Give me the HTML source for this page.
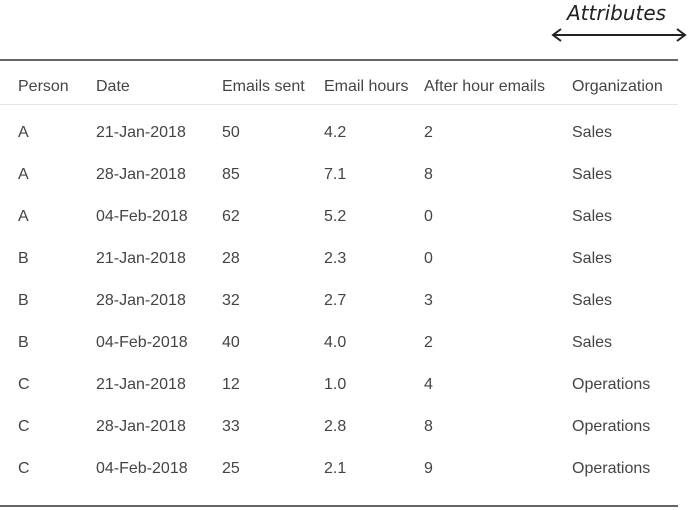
<!DOCTYPE html>
<html><head><meta charset="utf-8">
<style>
html,body{margin:0;padding:0;background:#fff;}
#wrap{position:relative;width:688px;height:510px;overflow:hidden;font-family:"Liberation Sans",sans-serif;font-size:16px;color:#444;}
.t{position:absolute;white-space:nowrap;line-height:18px;}
.rule{position:absolute;left:0;width:678px;}
</style></head><body>
<div id="wrap">
  <div class="t" style="left:567px;top:0px;font-family:'DejaVu Sans',sans-serif;font-style:italic;font-size:20px;color:#222;line-height:26px;">Attributes</div>
  <svg style="position:absolute;left:550px;top:27px" width="138" height16 height="16">
    <line x1="3" y1="8" x2="135" y2="8" stroke="#222" stroke-width="2"/>
    <polyline points="11,2 3,8 11,14" fill="none" stroke="#222" stroke-width="2"/>
    <polyline points="127,2 135,8 127,14" fill="none" stroke="#222" stroke-width="2"/>
  </svg>
  <div class="rule" style="top:59px;height:2px;background:#666;"></div>
  <div class="rule" style="top:104px;height:1px;background:#e4e4e4;"></div>
  <div class="rule" style="top:505px;height:2px;background:#666;"></div>
</div>
<script>
const headers = ["Person","Date","Emails sent","Email hours","After hour emails","Organization"];
const persons = ["A","A","A","B","B","B","C","C","C"];
const dates = ["21-Jan-2018","28-Jan-2018","04-Feb-2018","21-Jan-2018","28-Jan-2018","04-Feb-2018","21-Jan-2018","28-Jan-2018","04-Feb-2018"];
const emailsSent = ["50","85","62","28","32","40","12","33","25"];
const emailHours = ["4.2","7.1","5.2","2.3","2.7","4.0","1.0","2.8","2.1"];
const afterHour = ["2","8","0","0","3","2","4","8","9"];
const orgs = ["Sales","Sales","Sales","Sales","Sales","Sales","Operations","Operations","Operations"];
const colX = [18,96,222,324,424,572];
const colNames = ["person","date","emails-sent","email-hours","after-hour-emails","organization"];
const wrap = document.getElementById('wrap');
function cell(text, x, cy, name){
  const d = document.createElement('div');
  d.className = 't';
  d.textContent = text;
  d.style.left = x + 'px';
  d.style.top = (cy - 9) + 'px';
  
  
  wrap.appendChild(d);
}
headers.forEach((h,i)=>cell(h, colX[i], 87, 'header-' + colNames[i]));
const cols = [persons, dates, emailsSent, emailHours, afterHour, orgs];
for (let r = 0; r < persons.length; r++) {
  const cy = 133 + r * 42;
  cols.forEach((c,i)=>cell(c[r], colX[i], cy, 'cell-' + colNames[i] + '-row' + (r+1)));
}
</script>
</body></html>
